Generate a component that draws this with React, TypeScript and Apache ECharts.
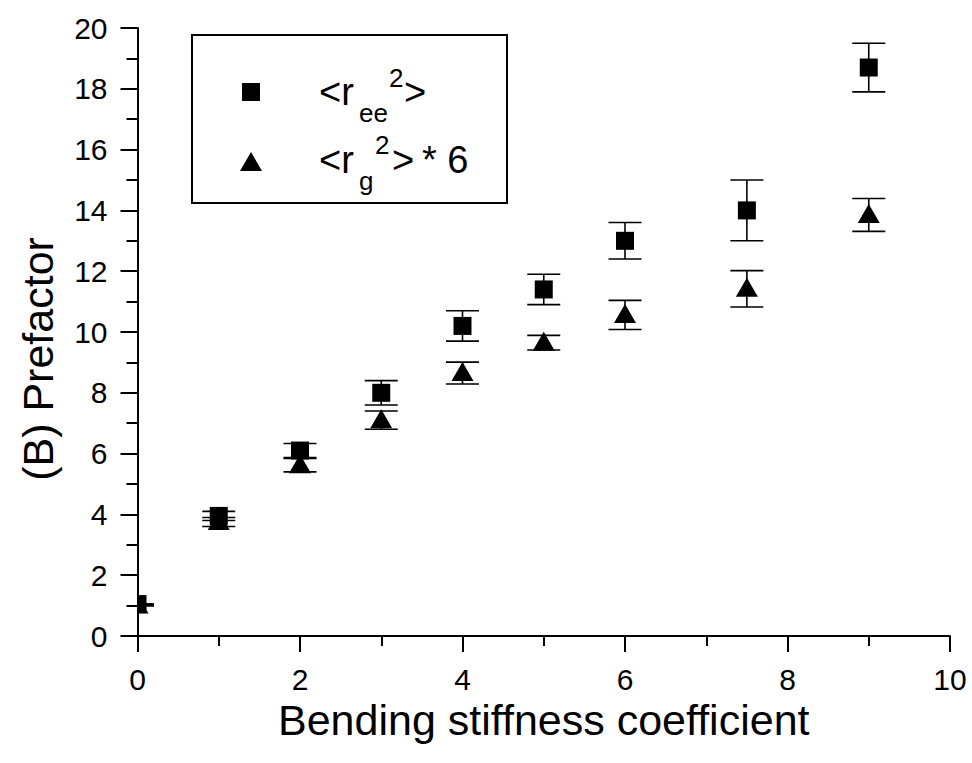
import React, { useEffect, useRef } from "react";
import * as echarts from "echarts";

// Bending stiffness coefficient (x)
const stiffness = [0, 1, 2, 3, 4, 5, 6, 7.5, 9];
// <r_ee^2> prefactor and its error (±)
const reeValues = [1.05, 3.95, 6.1, 8.0, 10.2, 11.4, 13.0, 14.0, 18.7];
const reeErrors = [0.0, 0.15, 0.23, 0.4, 0.5, 0.5, 0.6, 1.0, 0.8];
// <r_g^2> * 6 prefactor and its error (±)
const rgValues = [1.0, 3.75, 5.62, 7.1, 8.65, 9.65, 10.56, 11.42, 13.85];
const rgErrors = [0.0, 0.15, 0.22, 0.3, 0.36, 0.24, 0.48, 0.6, 0.54];

const xAxisTitle = "Bending stiffness coefficient";
const yAxisTitle = "(B) Prefactor";

const FONT = "'Liberation Sans', Arial, Helvetica, sans-serif";

function makeRenderer(kind: "square" | "triangle") {
  return (params: any, api: any) => {
    const x = api.value(0);
    const y = api.value(1);
    const e = api.value(2);
    const c = api.coord([x, y]);
    const hi = api.coord([x, y + e]);
    const lo = api.coord([x, y - e]);
    const half = 16.5;
    const lineStyle = { stroke: "#000", lineWidth: 1.6 };
    const children: any[] = [
      { type: "line", shape: { x1: c[0], y1: hi[1], x2: c[0], y2: lo[1] }, style: lineStyle },
      { type: "line", shape: { x1: c[0] - half, y1: hi[1], x2: c[0] + half, y2: hi[1] }, style: lineStyle },
      { type: "line", shape: { x1: c[0] - half, y1: lo[1], x2: c[0] + half, y2: lo[1] }, style: lineStyle },
    ];
    if (kind === "square") {
      children.push({
        type: "rect",
        shape: { x: c[0] - 9, y: c[1] - 9, width: 18, height: 18 },
        style: { fill: "#000" },
      });
    } else {
      children.push({
        type: "polygon",
        shape: { points: [[c[0], c[1] - 11], [c[0] + 11, c[1] + 8], [c[0] - 11, c[1] + 8]] },
        style: { fill: "#000" },
      });
    }
    return { type: "group", children };
  };
}

export default function App() {
  const ref = useRef<HTMLDivElement>(null);
  useEffect(() => {
    if (!ref.current) return;
    const chart = echarts.init(ref.current, null, { renderer: "svg" });
    const mainFont = 38;
    const subFont = 26;
    const k = 0.3465;
    const txt = (text: string, x: number, baseline: number, size: number) => ({
      type: "text",
      x,
      y: baseline - k * size,
      z: 11,
      style: { text, fill: "#000", font: `${size}px ${FONT}`, textAlign: "left", textVerticalAlign: "middle" },
    });
    const option: any = {
      animation: false,
      backgroundColor: "#fff",
      grid: { left: 137.5, right: 22, top: 28, bottom: 127 },
      xAxis: {
        type: "value",
        min: 0,
        max: 10,
        interval: 2,
        name: xAxisTitle,
        nameLocation: "middle",
        nameGap: 55,
        nameTextStyle: { fontSize: 43, fontFamily: FONT, color: "#000" },
        axisLine: { show: true, lineStyle: { color: "#000", width: 2 } },
        axisTick: { show: true, inside: false, length: 16, lineStyle: { color: "#000", width: 2 } },
        minorTick: { show: true, splitNumber: 2, length: 10, lineStyle: { color: "#000", width: 2 } },
        axisLabel: { fontSize: 30, fontFamily: FONT, color: "#000", margin: 28 },
        splitLine: { show: false },
      },
      yAxis: {
        type: "value",
        min: 0,
        max: 20,
        interval: 2,
        name: yAxisTitle,
        nameLocation: "middle",
        nameRotate: 90,
        nameGap: 78,
        nameTextStyle: { fontSize: 43, fontFamily: FONT, color: "#000", padding: [0, 54, 0, 0] },
        axisLine: { show: true, lineStyle: { color: "#000", width: 2 } },
        axisTick: { show: true, inside: false, length: 17, lineStyle: { color: "#000", width: 2 } },
        minorTick: { show: true, splitNumber: 2, length: 11, lineStyle: { color: "#000", width: 2 } },
        axisLabel: { fontSize: 30, fontFamily: FONT, color: "#000", margin: 30 },
        splitLine: { show: false },
      },
      series: [
        {
          name: "<r_ee^2>",
          type: "custom",
          clip: true,
          renderItem: makeRenderer("square"),
          encode: { x: 0, y: 1 },
          data: stiffness.map((x, i) => [x, reeValues[i], reeErrors[i]]),
          z: 3,
        },
        {
          name: "<r_g^2> * 6",
          type: "custom",
          clip: true,
          renderItem: makeRenderer("triangle"),
          encode: { x: 0, y: 1 },
          data: stiffness.map((x, i) => [x, rgValues[i], rgErrors[i]]),
          z: 3,
        },
      ],
      graphic: [
        {
          type: "rect",
          shape: { x: 192, y: 35, width: 315, height: 168 },
          style: { fill: "#fff", stroke: "#000", lineWidth: 2 },
          z: 10,
        },
        { type: "rect", shape: { x: 242, y: 83, width: 18, height: 18 }, style: { fill: "#000" }, z: 11 },
        {
          type: "polygon",
          shape: { points: [[251, 152], [262, 171], [240, 171]] },
          style: { fill: "#000" },
          z: 11,
        },
        txt("<r", 319, 105, mainFont),
        txt("ee", 359, 122, subFont),
        txt("2", 389, 87, subFont),
        txt(">", 404, 105, mainFont),
        txt("<r", 319, 173, mainFont),
        txt("g", 359, 190, subFont),
        txt("2", 375, 154, subFont),
        txt(">", 392, 173, mainFont),
        txt("* 6", 422, 173, mainFont),
      ],
    };
    chart.setOption(option);
    return () => chart.dispose();
  }, []);
  return (
    <div
      ref={ref}
      style={{ position: "absolute", left: 0, top: 0, width: 972, height: 763, background: "#fff" }}
    />
  );
}
